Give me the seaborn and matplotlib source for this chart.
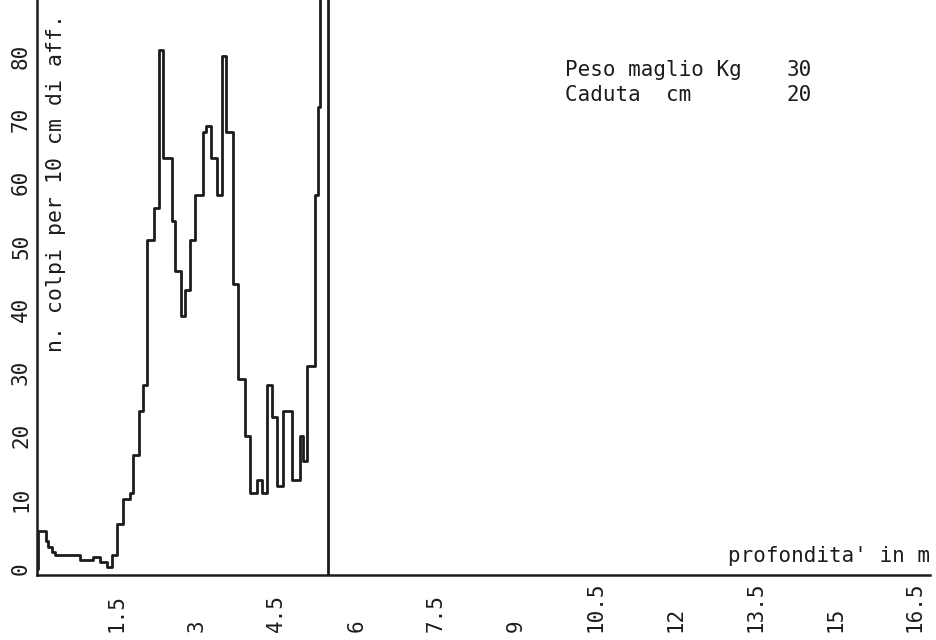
import matplotlib
matplotlib.use("Agg")
import matplotlib.pyplot as plt
import seaborn as sns
import pandas as pd

# depth (m) where each step starts, and blows per 10 cm for that step
depth_start = [0.00, 0.02, 0.17, 0.21, 0.28, 0.34, 0.81, 1.05, 1.18, 1.32,
               1.41, 1.50, 1.62, 1.75, 1.80, 1.92, 1.99, 2.07, 2.20, 2.29,
               2.37, 2.54, 2.59, 2.71, 2.78, 2.88, 2.97, 3.12, 3.18, 3.27,
               3.38, 3.48, 3.55, 3.68, 3.78, 3.91, 4.00, 4.14, 4.23, 4.32,
               4.42, 4.51, 4.62, 4.79, 4.94, 5.00, 5.08, 5.23, 5.28, 5.32,
               5.47]
blows = [1, 7, 5.3, 4.5, 3.7, 3.2, 2.4, 2.8, 2.1, 1.2,
         3.2, 8, 12, 13, 19, 26, 30, 53, 58, 83,
         66, 56, 48, 41, 45, 53, 60, 70, 71, 66,
         60, 82, 70, 46, 31, 22, 13, 15, 13, 30,
         25, 14, 26, 15, 22, 18, 33, 60, 74, 96,
         0]

x_ticks = [1.5, 3, 4.5, 6, 7.5, 9, 10.5, 12, 13.5, 15, 16.5]
x_tick_labels = ["1.5", "3", "4.5", "6", "7.5", "9", "10.5", "12", "13.5", "15", "16.5"]
y_ticks = [0, 10, 20, 30, 40, 50, 60, 70, 80]
y_tick_labels = ["0", "10", "20", "30", "40", "50", "60", "70", "80"]

y_title = "n. colpi per 10 cm di aff."
x_title = "profondita' in m"
info_names = ["Peso maglio Kg", "Caduta  cm"]
info_values = ["30", "20"]

sns.set_theme(style="white")
plt.rcParams["font.family"] = ["DejaVu Sans Mono", "DejaVu Sans"]
plt.rcParams["font.size"] = 15

W, H = 936, 640
fig = plt.figure(figsize=(W / 100, H / 100), dpi=100)
ax_left, ax_right, ax_top, ax_bottom = 37, 930, 0, 575
ax = fig.add_axes([ax_left / W, (H - ax_bottom) / H,
                   (ax_right - ax_left) / W, (ax_bottom - ax_top) / H])

df = pd.DataFrame({"depth": depth_start, "blows": blows})
sns.lineplot(data=df, x="depth", y="blows", drawstyle="steps-post",
             color="#1c1c1c", linewidth=2.0, ax=ax)

px_per_m = 53.2
px_per_blow = 6.325
ax.set_xlim(0, (ax_right - ax_left) / px_per_m)
ax.set_ylim(0, (ax_bottom - ax_top) / px_per_blow)

for s in ["top", "right"]:
    ax.spines[s].set_visible(False)
for s in ["left", "bottom"]:
    ax.spines[s].set_color("#1c1c1c")
    ax.spines[s].set_linewidth(1.8)

ax.set_xticks(x_ticks)
ax.set_xticklabels(x_tick_labels, rotation=90, va="bottom", ha="center")
ax.set_yticks(y_ticks)
ax.set_yticklabels(y_tick_labels, rotation=90, va="bottom", ha="center")
ax.tick_params(axis="x", direction="inout", length=9, width=1.6,
               color="#1c1c1c", pad=36.5, labelsize=15, labelcolor="#1c1c1c")
ax.tick_params(axis="y", direction="inout", length=11, width=1.6,
               color="#1c1c1c", pad=6.0, labelsize=15, labelcolor="#1c1c1c")
ax.set_xlabel("")
ax.set_ylabel("")

ax.text(19 / (ax_right - ax_left), (ax_bottom - 352) / (ax_bottom - ax_top), y_title,
        transform=ax.transAxes, rotation=90, ha="center", va="bottom",
        fontsize=15.5, color="#1c1c1c")
ax.text(1.0, 9 / (ax_bottom - ax_top), x_title, transform=ax.transAxes,
        ha="right", va="bottom", fontsize=15, color="#1c1c1c")

for i, (name, val) in enumerate(zip(info_names, info_values)):
    ytop = 60 + i * 25
    ax.text((565 - ax_left) / (ax_right - ax_left), (ax_bottom - ytop) / (ax_bottom - ax_top),
            name, transform=ax.transAxes, ha="left", va="top", fontsize=15, color="#1c1c1c")
    ax.text((787 - ax_left) / (ax_right - ax_left), (ax_bottom - ytop) / (ax_bottom - ax_top),
            val, transform=ax.transAxes, ha="left", va="top", fontsize=15, color="#1c1c1c")

fig.savefig("out.png", dpi=100)
